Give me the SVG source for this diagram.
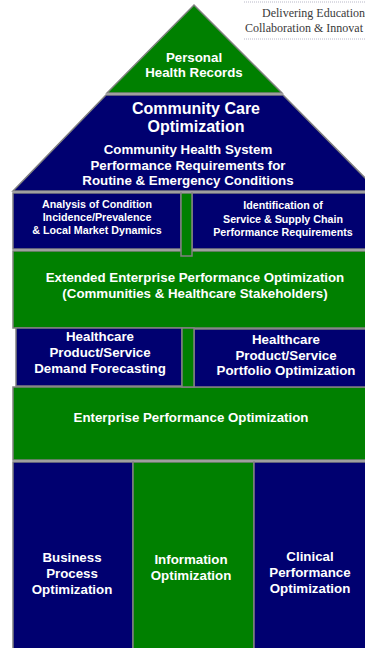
<svg xmlns="http://www.w3.org/2000/svg" width="365" height="648" viewBox="0 0 365 648">
<style>
.g{fill:#008000;stroke:#808080;stroke-width:1.5}
.n{fill:#000070;stroke:#808080;stroke-width:1.5}
text{font-family:"Liberation Sans",Arial,sans-serif;font-weight:bold;fill:#fff;text-anchor:middle}
.t10{font-size:10.7px}
.t12{font-size:13.3px}
.t13{font-size:13.3px}
.t15{font-size:16px}
.logo{font-family:"Liberation Serif","Times New Roman",serif;font-weight:normal;font-size:12px;fill:#3a3a3a;text-anchor:start}
</style>
<rect width="365" height="648" fill="#fff"/>
<g id="logo">
<line x1="244" y1="2" x2="365" y2="2" stroke="#b8b8c8" stroke-width="1" stroke-dasharray="1,1"/>
<line x1="244" y1="39" x2="365" y2="39" stroke="#b8b8c8" stroke-width="1" stroke-dasharray="1,1"/>
<text class="logo" x="262" y="17">Delivering Education</text>
<text class="logo" x="245" y="32">Collaboration &amp; Innovat</text>
</g>
<g id="personal-health-records">
<polygon class="g" points="194,5 282,93 107,93"/>
<text class="t13" x="194" y="62">Personal</text>
<text class="t13" x="194" y="77">Health Records</text>
</g>
<g id="community-care">
<polygon class="n" points="106,95 283,95 378,191 13,191"/>
<text class="t15" x="196" y="114">Community Care</text>
<text class="t15" x="196" y="132">Optimization</text>
<text class="t13" x="188" y="154">Community Health System</text>
<text class="t13" x="188" y="170">Performance Requirements for</text>
<text class="t13" x="188" y="185">Routine &amp; Emergency Conditions</text>
</g>
<g id="extended-enterprise">
<rect class="g" x="13" y="251" width="360" height="77"/>
<text class="t12" x="195" y="282">Extended Enterprise Performance Optimization</text>
<text class="t12" x="195" y="298">(Communities &amp; Healthcare Stakeholders)</text>
</g>
<g id="analysis-condition">
<rect class="n" x="13" y="193" width="168" height="56"/>
<text class="t10" x="97" y="208">Analysis of Condition</text>
<text class="t10" x="97" y="221">Incidence/Prevalence</text>
<text class="t10" x="97" y="234">&amp; Local Market Dynamics</text>
</g>
<g id="identification">
<rect class="n" x="192" y="193" width="180" height="56"/>
<text class="t10" x="283" y="209">Identification of</text>
<text class="t10" x="283" y="223">Service &amp; Supply Chain</text>
<text class="t10" x="283" y="236">Performance Requirements</text>
</g>
<g id="bar-1">
<rect class="g" x="181" y="193" width="11" height="63"/>
</g>
<g id="enterprise">
<rect class="g" x="13" y="387" width="360" height="73"/>
<text class="t12" x="191" y="422">Enterprise Performance Optimization</text>
</g>
<g id="demand-forecasting">
<rect class="n" x="16" y="328" width="166" height="58"/>
<text class="t12" x="100" y="341">Healthcare</text>
<text class="t12" x="100" y="357">Product/Service</text>
<text class="t12" x="100" y="373">Demand Forecasting</text>
</g>
<g id="portfolio-optimization">
<rect class="n" x="194" y="329" width="178" height="58"/>
<text class="t12" x="286" y="344">Healthcare</text>
<text class="t12" x="286" y="360">Product/Service</text>
<text class="t12" x="286" y="375">Portfolio Optimization</text>
</g>
<g id="bar-2">
<rect class="g" x="182" y="328" width="12" height="59"/>
</g>
<g id="business-process">
<rect class="n" x="13" y="462" width="120" height="190"/>
<text class="t12" x="72" y="562">Business</text>
<text class="t12" x="72" y="578">Process</text>
<text class="t12" x="72" y="594">Optimization</text>
</g>
<g id="information">
<rect class="g" x="133" y="462" width="121" height="190"/>
<text class="t12" x="191" y="564">Information</text>
<text class="t12" x="191" y="580">Optimization</text>
</g>
<g id="clinical-performance">
<rect class="n" x="254" y="462" width="120" height="190"/>
<text class="t12" x="310" y="561">Clinical</text>
<text class="t12" x="310" y="577">Performance</text>
<text class="t12" x="310" y="593">Optimization</text>
</g>
<g id="connectors"></g>
</svg>
